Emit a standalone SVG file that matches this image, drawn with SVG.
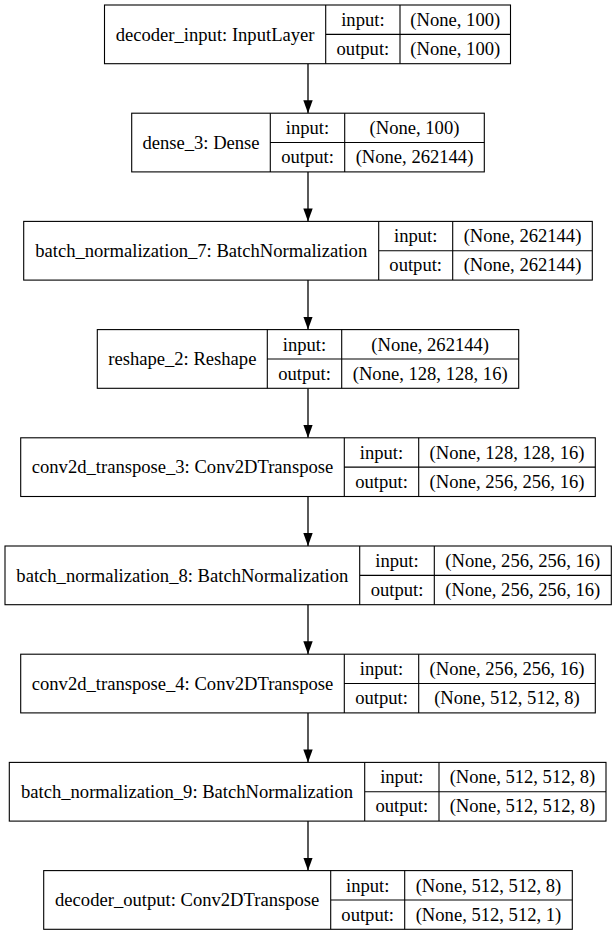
<svg xmlns="http://www.w3.org/2000/svg" width="616" height="935" viewBox="0 0 616 935">
<style>
.box{fill:#fff;stroke:#000;stroke-width:1.1}
.ln{stroke:#000;stroke-width:1.1;fill:none}
text{font-family:"Liberation Serif","Times New Roman",serif;font-size:18.6px;fill:#000;text-anchor:middle}
.edge{stroke:#000;stroke-width:1.3;fill:none;marker-end:url(#ah)}
</style>
<defs>
<marker id="ah" markerUnits="userSpaceOnUse" markerWidth="13" markerHeight="10" refX="13" refY="4.7" orient="auto">
<path d="M0,0 L13,4.7 L0,9.4 z" fill="#000"/>
</marker>
</defs>
<rect width="616" height="935" fill="#fff"/>
<g id="connectors">
<path class="edge" d="M308,63.7 V113.2"/>
<path class="edge" d="M308,171.9 V221.4"/>
<path class="edge" d="M308,280.1 V329.6"/>
<path class="edge" d="M308,388.3 V437.8"/>
<path class="edge" d="M308,496.5 V546"/>
<path class="edge" d="M308,604.7 V654.2"/>
<path class="edge" d="M308,712.9 V762.4"/>
<path class="edge" d="M308,821.1 V870.6"/>
</g>
<g id="decoder_input">
<rect class="box" x="104.5" y="5" width="406" height="58.7"/>
<path class="ln" d="M325.7,5 V63.7 M400,5 V63.7 M325.7,34.35 H510.5"/>
<text x="215.1" y="40.5">decoder_input: InputLayer</text>
<text x="362.9" y="26">input:</text>
<text x="455.3" y="26">(None, 100)</text>
<text x="362.9" y="55">output:</text>
<text x="455.3" y="55">(None, 100)</text>
</g>
<g id="dense_3">
<rect class="box" x="131.7" y="113.2" width="352.6" height="58.7"/>
<path class="ln" d="M270.3,113.2 V171.9 M344.7,113.2 V171.9 M270.3,142.55 H484.3"/>
<text x="201" y="148.7">dense_3: Dense</text>
<text x="307.5" y="134.2">input:</text>
<text x="414.5" y="134.2">(None, 100)</text>
<text x="307.5" y="163.2">output:</text>
<text x="414.5" y="163.2">(None, 262144)</text>
</g>
<g id="batch_normalization_7">
<rect class="box" x="23.7" y="221.4" width="568.6" height="58.7"/>
<path class="ln" d="M378.7,221.4 V280.1 M452.7,221.4 V280.1 M378.7,250.75 H592.3"/>
<text x="201.2" y="256.9">batch_normalization_7: BatchNormalization</text>
<text x="415.7" y="242.4">input:</text>
<text x="522.5" y="242.4">(None, 262144)</text>
<text x="415.7" y="271.4">output:</text>
<text x="522.5" y="271.4">(None, 262144)</text>
</g>
<g id="reshape_2">
<rect class="box" x="97.3" y="329.6" width="421.4" height="58.7"/>
<path class="ln" d="M267.3,329.6 V388.3 M341.7,329.6 V388.3 M267.3,358.95 H518.7"/>
<text x="182.3" y="365.1">reshape_2: Reshape</text>
<text x="304.5" y="350.6">input:</text>
<text x="430.2" y="350.6">(None, 262144)</text>
<text x="304.5" y="379.6">output:</text>
<text x="430.2" y="379.6">(None, 128, 128, 16)</text>
</g>
<g id="conv2d_transpose_3">
<rect class="box" x="20.7" y="437.8" width="574.6" height="58.7"/>
<path class="ln" d="M344.3,437.8 V496.5 M418.7,437.8 V496.5 M344.3,467.15 H595.3"/>
<text x="182.5" y="473.3">conv2d_transpose_3: Conv2DTranspose</text>
<text x="381.5" y="458.8">input:</text>
<text x="507" y="458.8">(None, 128, 128, 16)</text>
<text x="381.5" y="487.8">output:</text>
<text x="507" y="487.8">(None, 256, 256, 16)</text>
</g>
<g id="batch_normalization_8">
<rect class="box" x="5" y="546" width="606.3" height="58.7"/>
<path class="ln" d="M359.7,546 V604.7 M434.3,546 V604.7 M359.7,575.35 H611.3"/>
<text x="182.35" y="581.5">batch_normalization_8: BatchNormalization</text>
<text x="397" y="567">input:</text>
<text x="522.8" y="567">(None, 256, 256, 16)</text>
<text x="397" y="596">output:</text>
<text x="522.8" y="596">(None, 256, 256, 16)</text>
</g>
<g id="conv2d_transpose_4">
<rect class="box" x="20.7" y="654.2" width="574.6" height="58.7"/>
<path class="ln" d="M344.3,654.2 V712.9 M418.7,654.2 V712.9 M344.3,683.55 H595.3"/>
<text x="182.5" y="689.7">conv2d_transpose_4: Conv2DTranspose</text>
<text x="381.5" y="675.2">input:</text>
<text x="507" y="675.2">(None, 256, 256, 16)</text>
<text x="381.5" y="704.2">output:</text>
<text x="507" y="704.2">(None, 512, 512, 8)</text>
</g>
<g id="batch_normalization_9">
<rect class="box" x="9.3" y="762.4" width="596.7" height="58.7"/>
<path class="ln" d="M364.7,762.4 V821.1 M439,762.4 V821.1 M364.7,791.75 H606"/>
<text x="187" y="797.9">batch_normalization_9: BatchNormalization</text>
<text x="401.85" y="783.4">input:</text>
<text x="522.5" y="783.4">(None, 512, 512, 8)</text>
<text x="401.85" y="812.4">output:</text>
<text x="522.5" y="812.4">(None, 512, 512, 8)</text>
</g>
<g id="decoder_output">
<rect class="box" x="43.7" y="870.6" width="528.6" height="58.7"/>
<path class="ln" d="M330.7,870.6 V929.3 M404.7,870.6 V929.3 M330.7,899.95 H572.3"/>
<text x="187.2" y="906.1">decoder_output: Conv2DTranspose</text>
<text x="367.7" y="891.6">input:</text>
<text x="488.5" y="891.6">(None, 512, 512, 8)</text>
<text x="367.7" y="920.6">output:</text>
<text x="488.5" y="920.6">(None, 512, 512, 1)</text>
</g>
</svg>
